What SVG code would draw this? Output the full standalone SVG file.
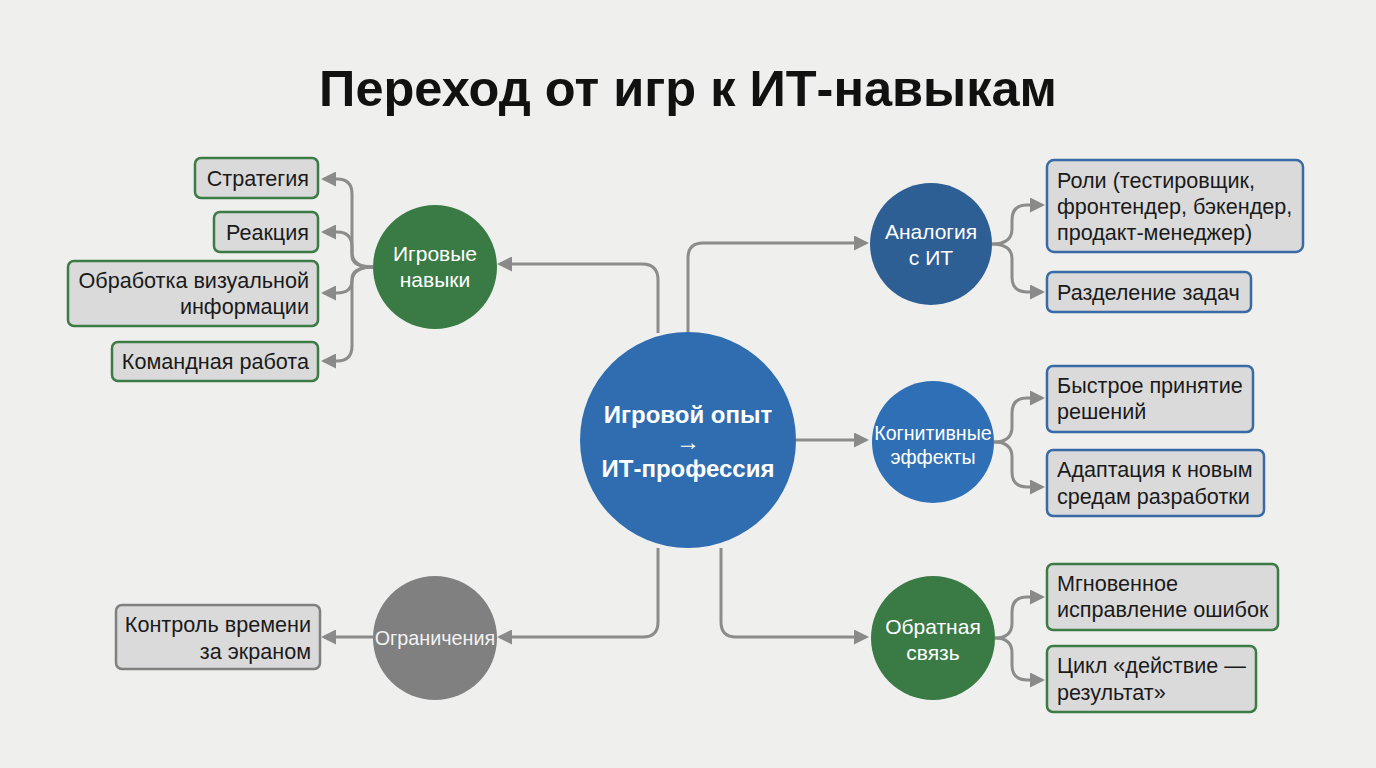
<svg xmlns="http://www.w3.org/2000/svg" width="1376" height="768" viewBox="0 0 1376 768">
<defs>
<marker id="ah" viewBox="0 0 10 10" refX="8" refY="5" markerWidth="5" markerHeight="5" orient="auto" markerUnits="strokeWidth">
<path d="M0,0 L10,5 L0,10 z" fill="#8a8a8a"/>
</marker>
<style>
.bg{fill:#efefed}
.title{font-family:"Liberation Sans",Arial,sans-serif;font-weight:bold;font-size:50.5px;fill:#111}
.con{fill:none;stroke:#8c8c8c;stroke-width:3;marker-end:url(#ah)}
.boxg{fill:#dadada;stroke:#3d7b46;stroke-width:2.5}
.boxb{fill:#dadada;stroke:#3a6aa6;stroke-width:2.5}
.boxk{fill:#dadada;stroke:#808080;stroke-width:2.5}
.bt{font-family:"Liberation Sans",Arial,sans-serif;font-size:21.6px;fill:#1a1a1a}
.r{text-anchor:end}
.ct{font-family:"Liberation Sans",Arial,sans-serif;font-size:21px;fill:#fff;text-anchor:middle}
.main{font-family:"Liberation Sans",Arial,sans-serif;font-weight:bold;font-size:24px;fill:#fff;text-anchor:middle}
</style>
</defs>
<rect class="bg" x="0" y="0" width="1376" height="768"/>
<text class="title" x="688" y="106" text-anchor="middle">Переход от игр к ИТ-навыкам</text>

<g id="connectors">
<path class="con" d="M658,333 V280 Q658,264 642,264 H500"/>
<path class="con" d="M688,333 V258 Q688,243 703,243 H866"/>
<path class="con" d="M796,440 H866"/>
<path class="con" d="M658,548 V622 Q658,637 643,637 H500"/>
<path class="con" d="M721,548 V622 Q721,637 736,637 H866"/>
<path class="con" d="M373,637 H324"/>
<path class="con" d="M373,267 Q352,267 352,252 V194 Q352,179 337,179 H324"/>
<path class="con" d="M373,267 Q352,267 352,256 V247 Q352,232 337,232 H324"/>
<path class="con" d="M373,267 Q352,267 352,279 V280 Q352,293 337,293 H324"/>
<path class="con" d="M373,267 Q352,267 352,282 V346 Q352,361 337,361 H324"/>
<path class="con" d="M992,244 Q1012,244 1012,229 V220 Q1012,205 1027,205 H1042"/>
<path class="con" d="M992,244 Q1012,244 1012,259 V277 Q1012,292 1027,292 H1042"/>
<path class="con" d="M994,442 Q1012,442 1012,427 V413 Q1012,398 1027,398 H1042"/>
<path class="con" d="M994,442 Q1012,442 1012,457 V472 Q1012,487 1027,487 H1042"/>
<path class="con" d="M995,638 Q1012,638 1012,623 V612 Q1012,597 1027,597 H1042"/>
<path class="con" d="M995,638 Q1012,638 1012,653 V665 Q1012,680 1027,680 H1042"/>
</g>

<g id="center">
<circle cx="688" cy="440" r="108" fill="#2f6db0"/>
<text class="main" x="688" y="423">Игровой опыт</text>
<text class="main" x="688" y="450">→</text>
<text class="main" x="688" y="477">ИТ-профессия</text>
</g>

<g id="game-skills">
<circle cx="435" cy="267" r="62" fill="#3a7b45"/>
<text class="ct" x="435" y="261">Игровые</text>
<text class="ct" x="435" y="287">навыки</text>
</g>

<g id="limits">
<circle cx="435" cy="638" r="62" fill="#808080"/>
<text class="ct" x="435" y="645" style="font-size:19.8px;fill:#f2f2f2">Ограничения</text>
</g>

<g id="analogy">
<circle cx="931" cy="244" r="61" fill="#2d5e94"/>
<text class="ct" x="931" y="239">Аналогия</text>
<text class="ct" x="931" y="265">с ИТ</text>
</g>

<g id="cognitive">
<circle cx="933" cy="442" r="61" fill="#2f6fb6"/>
<text class="ct" x="933" y="440" style="font-size:19.6px">Когнитивные</text>
<text class="ct" x="933" y="464" style="font-size:19.6px">эффекты</text>
</g>

<g id="feedback">
<circle cx="933" cy="638" r="62" fill="#3a7b45"/>
<text class="ct" x="933" y="634">Обратная</text>
<text class="ct" x="933" y="660">связь</text>
</g>

<g id="b-strategy">
<rect class="boxg" x="195" y="158" width="123" height="40" rx="6"/>
<text class="bt r" x="309" y="186">Стратегия</text>
</g>
<g id="b-reaction">
<rect class="boxg" x="214" y="212" width="104" height="40" rx="6"/>
<text class="bt r" x="309" y="240">Реакция</text>
</g>
<g id="b-visual">
<rect class="boxg" x="68" y="261" width="250" height="65" rx="6"/>
<text class="bt r" x="309" y="288">Обработка визуальной</text>
<text class="bt r" x="309" y="314">информации</text>
</g>
<g id="b-team">
<rect class="boxg" x="112" y="342" width="206" height="39" rx="6"/>
<text class="bt r" x="309" y="369">Командная работа</text>
</g>
<g id="b-screen">
<rect class="boxk" x="116" y="605" width="204" height="64" rx="6"/>
<text class="bt r" x="311" y="632">Контроль времени</text>
<text class="bt r" x="311" y="659">за экраном</text>
</g>

<g id="b-roles">
<rect class="boxb" x="1047" y="160" width="256" height="92" rx="7"/>
<text class="bt" x="1057" y="188">Роли (тестировщик,</text>
<text class="bt" x="1057" y="214">фронтендер, бэкендер,</text>
<text class="bt" x="1057" y="240">продакт-менеджер)</text>
</g>
<g id="b-tasks">
<rect class="boxb" x="1047" y="272" width="204" height="40" rx="6"/>
<text class="bt" x="1057" y="300">Разделение задач</text>
</g>
<g id="b-decisions">
<rect class="boxb" x="1047" y="366" width="206" height="66" rx="6"/>
<text class="bt" x="1057" y="393">Быстрое принятие</text>
<text class="bt" x="1057" y="419">решений</text>
</g>
<g id="b-adapt">
<rect class="boxb" x="1047" y="450" width="217" height="66" rx="6"/>
<text class="bt" x="1057" y="477">Адаптация к новым</text>
<text class="bt" x="1057" y="504">средам разработки</text>
</g>
<g id="b-errors">
<rect class="boxg" x="1047" y="564" width="231" height="66" rx="6"/>
<text class="bt" x="1057" y="591">Мгновенное</text>
<text class="bt" x="1057" y="617">исправление ошибок</text>
</g>
<g id="b-cycle">
<rect class="boxg" x="1047" y="646" width="209" height="66" rx="6"/>
<text class="bt" x="1057" y="673">Цикл «действие —</text>
<text class="bt" x="1057" y="700">результат»</text>
</g>
</svg>
